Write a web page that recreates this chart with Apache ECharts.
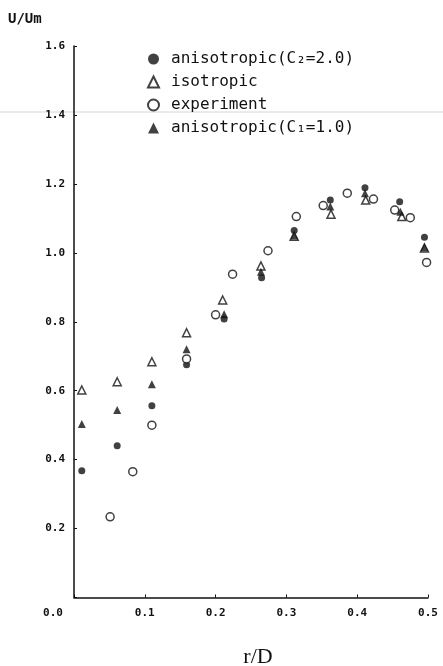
<!DOCTYPE html>
<html>
<head>
<meta charset="utf-8">
<script src="https://cdn.jsdelivr.net/npm/echarts@6/dist/echarts.min.js"></script>
<style>
  html, body { margin: 0; padding: 0; background: #fff; }
  #chart { width: 443px; height: 666px; }
</style>
</head>
<body>
<div id="chart"></div>
<script>
// r/D positions and U/Um values
const seriesNames = ['anisotropic(C₂=2.0)', 'isotropic', 'experiment', 'anisotropic(C₁=1.0)']

const aniso2X = [0.011, 0.061, 0.110, 0.159, 0.212, 0.265, 0.311, 0.362, 0.411, 0.460, 0.495]
const aniso2Y = [0.368, 0.440, 0.556, 0.675, 0.808, 0.928, 1.065, 1.153, 1.189, 1.148, 1.045]

const isoX = [0.011, 0.061, 0.110, 0.159, 0.210, 0.264, 0.311, 0.363, 0.412, 0.463, 0.495]
const isoY = [0.602, 0.626, 0.684, 0.768, 0.863, 0.962, 1.048, 1.112, 1.153, 1.105, 1.014]

const expX = [0.051, 0.083, 0.110, 0.159, 0.200, 0.224, 0.274, 0.314, 0.352, 0.386, 0.423, 0.453, 0.475, 0.498]
const expY = [0.234, 0.365, 0.500, 0.692, 0.820, 0.938, 1.006, 1.105, 1.137, 1.173, 1.156, 1.124, 1.102, 0.972]

const aniso1X = [0.011, 0.061, 0.110, 0.159, 0.212, 0.264, 0.311, 0.362, 0.411, 0.461, 0.495]
const aniso1Y = [0.503, 0.544, 0.619, 0.720, 0.822, 0.945, 1.050, 1.134, 1.173, 1.119, 1.016]

const xTicks = [0, 0.1, 0.2, 0.3, 0.4, 0.5]

function pairs(xs, ys) {
  return xs.map((x, i) => [x, ys[i]])
}

const ink = '#111'
const monoFont = '"DejaVu Sans Mono", monospace'

const chart = echarts.init(document.getElementById('chart'))

const option = {
  animation: false,
  backgroundColor: '#fff',
  grid: { left: 74, right: 15, top: 46, bottom: 68.5, outerBoundsMode: 'none' },
  graphic: [
    {
      type: 'line', z: -1,
      shape: { x1: 0, y1: 112, x2: 443, y2: 112 },
      style: { stroke: '#ebebeb', lineWidth: 2 }
    },
    {
      type: 'text', left: 8, top: 12,
      style: { text: 'U/Um', font: 'bold 14px ' + monoFont, fill: ink }
    }
  ],
  legend: {
    orient: 'vertical',
    left: 147,
    top: 51,
    padding: 0,
    itemWidth: 11,
    itemHeight: 11,
    itemGap: 7,
    selectedMode: false,
    data: seriesNames,
    textStyle: { fontFamily: monoFont, fontSize: 16, color: ink, padding: [0, 0, 0, 7] }
  },
  xAxis: {
    type: 'value',
    min: 0,
    max: 0.5,
    interval: 0.1,
    name: 'r/D',
    nameLocation: 'middle',
    nameGap: 49,
    nameTextStyle: { fontFamily: '"Liberation Serif", serif', fontSize: 22, color: ink, padding: [0, 0, 0, 14] },
    axisLine: { lineStyle: { color: ink, width: 1.5 } },
    axisTick: { inside: true, length: 3, lineStyle: { color: ink } },
    splitLine: { show: false },
    axisLabel: {
      margin: 10,
      color: ink,
      fontFamily: monoFont,
      fontWeight: 'bold',
      fontSize: 11,
      formatter: v => {
        const s = xTicks.includes(+v.toFixed(1)) ? v.toFixed(1) : ''
        return v === 0 ? '{z|' + s + '}' : s
      },
      rich: {
        z: { padding: [0, 42, 0, 0], fontFamily: monoFont, fontWeight: 'bold', fontSize: 11, color: ink }
      }
    }
  },
  yAxis: {
    type: 'value',
    min: 0,
    max: 1.6,
    interval: 0.2,
    axisLine: { show: true, lineStyle: { color: ink, width: 1.5 } },
    axisTick: { show: true, inside: true, length: 3, lineStyle: { color: ink } },
    splitLine: { show: false },
    axisLabel: {
      margin: 9,
      color: ink,
      fontFamily: monoFont,
      fontWeight: 'bold',
      fontSize: 11,
      formatter: v => (v === 0 ? '' : v.toFixed(1))
    }
  },
  series: [
    {
      name: seriesNames[0],
      type: 'scatter',
      symbol: 'circle',
      symbolSize: 7,
      itemStyle: { color: ink },
      data: pairs(aniso2X, aniso2Y)
    },
    {
      name: seriesNames[1],
      type: 'scatter',
      symbol: 'triangle',
      symbolSize: 8,
      itemStyle: { color: '#fff', borderColor: ink, borderWidth: 1.5 },
      data: pairs(isoX, isoY)
    },
    {
      name: seriesNames[2],
      type: 'scatter',
      symbol: 'circle',
      symbolSize: 8,
      itemStyle: { color: '#fff', borderColor: ink, borderWidth: 1.5 },
      data: pairs(expX, expY)
    },
    {
      name: seriesNames[3],
      type: 'scatter',
      symbol: 'triangle',
      symbolSize: 8,
      itemStyle: { color: ink },
      data: pairs(aniso1X, aniso1Y)
    }
  ]
}

chart.setOption(option)
</script>
</body>
</html>
